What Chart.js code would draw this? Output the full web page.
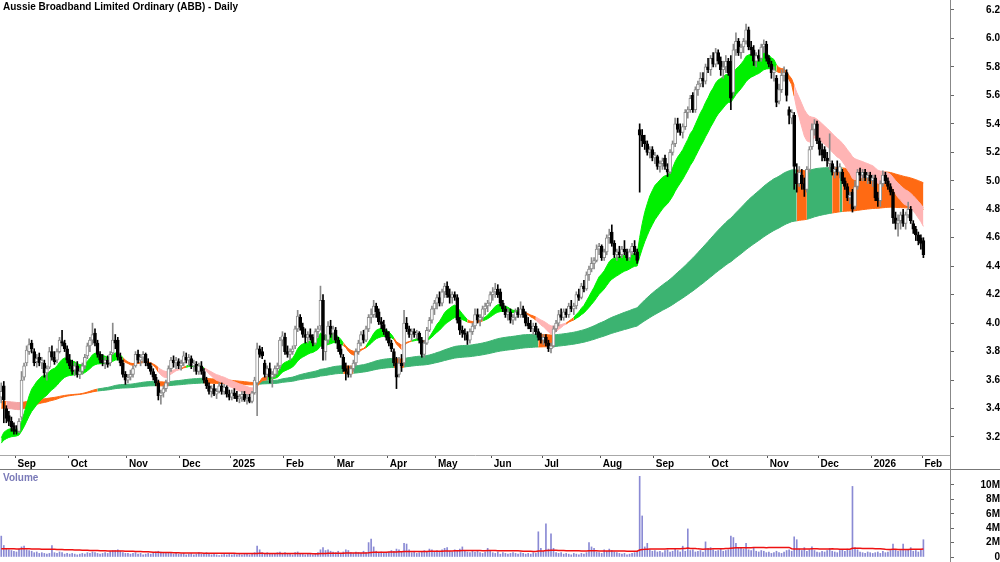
<!DOCTYPE html>
<html>
<head>
<meta charset="utf-8">
<script src="https://cdn.jsdelivr.net/npm/chart.js@4"></script>
<style>
  body { margin: 0; background: #fff; }
  #wrap { position: relative; width: 1000px; height: 562px; font-family: "Liberation Sans", Arial, sans-serif; overflow: hidden; }
  #price { position: absolute; left: 0; top: 0; }
  #vol { position: absolute; left: 0; top: 470px; }
  .title { position: absolute; left: 3px; top: 1px; font-size: 10px; font-weight: bold; color: #000; }
  .vlabel { position: absolute; left: 3px; top: 472px; font-size: 10px; font-weight: bold; color: #7a7ab8; }
  .sep { position: absolute; left: 0; top: 469px; width: 1000px; height: 1px; background: #777; }
  .axis { position: absolute; left: 950px; top: 0; width: 1px; height: 562px; background: #888; }
</style>
</head>
<body>
<div id="wrap">
  <canvas id="price" width="1000" height="470"></canvas>
  <canvas id="vol" width="1000" height="92"></canvas>
  <div class="sep"></div>
  <div class="axis"></div>
  <div class="title">Aussie Broadband Limited Ordinary (ABB) - Daily</div>
  <div class="vlabel">Volume</div>
</div>
<script>
// daily candles [open, high, low, close], one array per month
const aug24 = [[3.48,3.58,3.44,3.52],[3.56,3.59,3.30,3.46],[3.40,3.42,3.30,3.33],[3.35,3.38,3.28,3.31],[3.31,3.34,3.24,3.27],[3.28,3.30,3.22,3.24]];
const sep24 = [[3.25,3.28,3.22,3.24],[3.24,3.33,3.23,3.31],[3.34,3.66,3.32,3.60],[3.62,3.72,3.60,3.70],[3.72,3.84,3.70,3.81],[3.80,3.89,3.78,3.85],[3.86,3.88,3.79,3.82],[3.80,3.82,3.70,3.72],[3.73,3.78,3.69,3.75],[3.76,3.79,3.70,3.72],[3.72,3.76,3.68,3.74],[3.72,3.74,3.62,3.65],[3.65,3.70,3.60,3.68],[3.69,3.83,3.68,3.80],[3.80,3.84,3.74,3.76],[3.76,3.80,3.71,3.73],[3.74,3.82,3.72,3.80],[3.80,3.90,3.79,3.88],[3.87,3.95,3.84,3.86],[3.86,3.88,3.80,3.82],[3.82,3.84,3.72,3.74]];
const oct24 = [[3.74,3.78,3.68,3.70],[3.70,3.74,3.64,3.66],[3.67,3.72,3.63,3.70],[3.70,3.73,3.62,3.64],[3.64,3.68,3.61,3.66],[3.66,3.72,3.64,3.70],[3.70,3.78,3.68,3.76],[3.77,3.86,3.75,3.84],[3.84,3.90,3.80,3.88],[3.88,4.00,3.85,3.92],[3.93,3.96,3.84,3.86],[3.86,3.88,3.76,3.78],[3.78,3.80,3.72,3.74],[3.74,3.78,3.70,3.72],[3.72,3.76,3.68,3.74],[3.74,3.77,3.69,3.71],[3.72,3.80,3.70,3.78],[3.79,4.00,3.78,3.88],[3.88,3.92,3.82,3.86],[3.88,3.90,3.74,3.76],[3.76,3.79,3.70,3.72],[3.72,3.74,3.62,3.64],[3.64,3.66,3.57,3.60]];
const nov24 = [[3.60,3.64,3.58,3.62],[3.62,3.67,3.60,3.64],[3.64,3.70,3.62,3.68],[3.70,3.80,3.69,3.78],[3.78,3.81,3.72,3.74],[3.74,3.78,3.70,3.76],[3.76,3.80,3.72,3.78],[3.78,3.79,3.70,3.72],[3.72,3.75,3.68,3.70],[3.70,3.72,3.64,3.66],[3.66,3.68,3.60,3.62],[3.62,3.64,3.56,3.58],[3.58,3.60,3.46,3.49],[3.49,3.53,3.43,3.51],[3.51,3.56,3.48,3.54],[3.54,3.60,3.52,3.58],[3.58,3.70,3.56,3.68],[3.68,3.76,3.66,3.74],[3.74,3.77,3.69,3.72],[3.72,3.76,3.68,3.74],[3.73,3.75,3.68,3.70]];
const dec24 = [[3.70,3.74,3.67,3.72],[3.72,3.80,3.70,3.77],[3.76,3.79,3.72,3.74],[3.74,3.78,3.70,3.76],[3.75,3.77,3.68,3.70],[3.70,3.74,3.66,3.72],[3.71,3.73,3.64,3.66],[3.66,3.72,3.64,3.70],[3.70,3.73,3.64,3.66],[3.66,3.68,3.58,3.60],[3.60,3.62,3.54,3.56],[3.56,3.58,3.50,3.52],[3.52,3.56,3.48,3.54],[3.54,3.57,3.49,3.50],[3.50,3.54,3.47,3.52],[3.52,3.58,3.51,3.56],[3.56,3.58,3.50,3.52],[3.52,3.57,3.50,3.55],[3.55,3.56,3.48,3.50],[3.50,3.53,3.46,3.48]];
const jan25 = [[3.48,3.53,3.46,3.51],[3.51,3.54,3.47,3.49],[3.49,3.52,3.45,3.47],[3.47,3.50,3.44,3.48],[3.48,3.52,3.45,3.50],[3.50,3.52,3.45,3.46],[3.46,3.50,3.43,3.47],[3.48,3.50,3.44,3.45],[3.45,3.52,3.44,3.51],[3.51,3.62,3.50,3.60],[3.58,3.86,3.35,3.82],[3.82,3.84,3.76,3.78],[3.80,3.83,3.75,3.77],[3.72,3.74,3.62,3.64],[3.64,3.70,3.60,3.68],[3.68,3.72,3.58,3.62],[3.62,3.66,3.55,3.64],[3.64,3.70,3.62,3.68],[3.68,3.72,3.64,3.70],[3.70,3.90,3.68,3.88],[3.88,3.94,3.84,3.91]];
const feb25 = [[3.90,3.93,3.78,3.80],[3.80,3.84,3.76,3.78],[3.78,3.82,3.74,3.80],[3.80,3.84,3.78,3.82],[3.84,3.98,3.82,3.96],[3.96,4.09,3.94,4.05],[4.04,4.06,3.95,3.97],[3.97,4.00,3.90,3.92],[3.92,3.96,3.86,3.90],[3.90,3.94,3.86,3.92],[3.92,3.96,3.88,3.90],[3.90,3.92,3.84,3.86],[3.86,3.96,3.85,3.94],[3.94,3.98,3.90,3.96],[3.98,4.26,3.95,4.16],[4.16,4.20,3.74,3.82],[3.80,3.92,3.74,3.88],[3.88,4.01,3.86,3.98],[3.98,4.02,3.90,3.92],[3.93,3.98,3.88,3.96]];
const mar25 = [[3.95,3.97,3.86,3.88],[3.88,3.90,3.80,3.82],[3.82,3.85,3.76,3.78],[3.76,3.78,3.66,3.68],[3.68,3.72,3.60,3.66],[3.66,3.70,3.62,3.64],[3.64,3.70,3.62,3.68],[3.68,3.74,3.66,3.72],[3.72,3.82,3.70,3.80],[3.80,3.88,3.78,3.86],[3.86,3.94,3.84,3.92],[3.92,3.95,3.86,3.88],[3.88,3.98,3.87,3.96],[3.96,4.06,3.94,4.04],[4.04,4.10,4.00,4.06],[4.06,4.16,4.04,4.12],[4.12,4.14,4.04,4.08],[4.08,4.10,3.99,4.01],[4.01,4.04,3.96,3.99],[3.99,4.02,3.92,3.94],[3.94,3.96,3.88,3.90]];
const apr25 = [[3.90,3.94,3.84,3.86],[3.86,3.88,3.80,3.82],[3.80,3.82,3.70,3.72],[3.72,3.76,3.54,3.62],[3.64,3.76,3.62,3.72],[3.72,3.78,3.66,3.70],[3.72,4.09,3.70,4.00],[4.00,4.04,3.94,3.96],[3.96,3.98,3.90,3.92],[3.92,3.96,3.88,3.94],[3.94,3.96,3.90,3.92],[3.92,3.95,3.89,3.93],[3.93,3.94,3.86,3.88],[3.88,3.90,3.76,3.78],[3.78,3.88,3.76,3.86],[3.86,3.97,3.85,3.95],[3.95,4.04,3.94,4.02],[4.02,4.12,4.00,4.10],[4.10,4.16,4.06,4.14]];
const may25 = [[4.14,4.20,4.10,4.18],[4.18,4.22,4.12,4.14],[4.14,4.24,4.12,4.22],[4.22,4.28,4.18,4.26],[4.26,4.29,4.18,4.20],[4.20,4.24,4.14,4.18],[4.18,4.22,4.14,4.20],[4.20,4.22,4.16,4.18],[4.18,4.20,4.00,4.02],[4.02,4.04,3.92,3.95],[3.95,3.98,3.90,3.93],[3.93,3.96,3.88,3.92],[3.92,3.94,3.85,3.88],[3.88,3.96,3.86,3.94],[3.94,4.00,3.92,3.98],[3.98,4.10,3.96,4.06],[4.06,4.10,4.00,4.02],[4.02,4.06,3.98,4.04],[4.04,4.12,4.02,4.10],[4.10,4.14,4.06,4.12],[4.12,4.16,4.08,4.14],[4.14,4.22,4.12,4.20]];
const jun25 = [[4.20,4.25,4.16,4.22],[4.22,4.28,4.18,4.24],[4.24,4.27,4.18,4.20],[4.22,4.24,4.12,4.14],[4.14,4.16,4.08,4.10],[4.10,4.12,4.04,4.06],[4.06,4.10,4.02,4.08],[4.08,4.10,4.00,4.02],[4.02,4.06,3.99,4.04],[4.04,4.10,4.02,4.08],[4.08,4.11,4.04,4.06],[4.06,4.15,4.04,4.10],[4.10,4.12,4.04,4.06],[4.06,4.08,3.98,4.00],[4.00,4.04,3.96,3.98],[3.98,4.02,3.94,3.96],[3.96,4.00,3.92,3.98],[3.98,4.00,3.92,3.94],[3.94,3.96,3.88,3.90],[3.90,3.93,3.86,3.88]];
const jul25 = [[3.88,3.92,3.85,3.90],[3.90,3.92,3.84,3.86],[3.86,3.88,3.80,3.82],[3.82,3.86,3.79,3.84],[3.84,3.98,3.83,3.96],[3.96,4.02,3.94,4.00],[4.00,4.09,3.98,4.06],[4.06,4.10,4.02,4.04],[4.04,4.10,4.02,4.08],[4.08,4.10,4.04,4.06],[4.06,4.14,4.04,4.12],[4.12,4.16,4.08,4.10],[4.10,4.14,4.06,4.12],[4.12,4.22,4.10,4.20],[4.20,4.24,4.16,4.18],[4.18,4.28,4.17,4.26],[4.26,4.30,4.22,4.24],[4.24,4.36,4.23,4.34],[4.34,4.40,4.30,4.38],[4.38,4.46,4.36,4.42],[4.42,4.46,4.38,4.44],[4.44,4.55,4.43,4.52],[4.52,4.56,4.48,4.54]];
const aug25 = [[4.54,4.55,4.44,4.46],[4.46,4.52,4.44,4.50],[4.50,4.62,4.48,4.60],[4.60,4.66,4.56,4.62],[4.64,4.69,4.54,4.56],[4.56,4.58,4.46,4.48],[4.48,4.52,4.44,4.50],[4.50,4.54,4.46,4.48],[4.48,4.54,4.46,4.52],[4.52,4.58,4.48,4.50],[4.50,4.52,4.44,4.46],[4.46,4.52,4.44,4.50],[4.50,4.56,4.48,4.54],[4.54,4.58,4.48,4.50],[4.50,4.52,4.42,4.44],[5.36,5.40,4.92,5.32],[5.32,5.36,5.24,5.28],[5.28,5.32,5.22,5.26],[5.26,5.28,5.18,5.20],[5.20,5.24,5.16,5.22],[5.22,5.24,5.14,5.16]];
const sep25 = [[5.16,5.20,5.12,5.18],[5.17,5.18,5.08,5.10],[5.10,5.14,5.06,5.12],[5.12,5.16,5.08,5.14],[5.16,5.18,5.08,5.10],[5.08,5.12,5.03,5.06],[5.06,5.22,5.05,5.20],[5.20,5.28,5.18,5.26],[5.26,5.44,5.24,5.40],[5.40,5.44,5.34,5.36],[5.36,5.40,5.32,5.34],[5.34,5.40,5.30,5.38],[5.38,5.50,5.36,5.48],[5.48,5.52,5.44,5.50],[5.50,5.60,5.48,5.58],[5.60,5.62,5.48,5.50],[5.50,5.66,5.48,5.64],[5.64,5.70,5.60,5.68],[5.68,5.76,5.66,5.72],[5.72,5.76,5.66,5.70],[5.70,5.82,5.68,5.80],[5.80,5.86,5.76,5.78]];
const oct25 = [[5.78,5.88,5.74,5.86],[5.86,5.90,5.80,5.82],[5.82,5.93,5.80,5.90],[5.90,5.92,5.82,5.84],[5.84,5.87,5.74,5.78],[5.78,5.84,5.72,5.80],[5.80,5.88,5.76,5.84],[5.84,5.86,5.74,5.76],[5.84,5.88,5.50,5.58],[5.62,5.96,5.60,5.92],[5.92,6.04,5.88,5.98],[5.98,6.00,5.88,5.90],[5.90,5.96,5.86,5.94],[5.94,6.00,5.90,5.98],[5.98,6.10,5.96,6.06],[6.06,6.08,5.92,5.94],[5.94,5.98,5.88,5.92],[5.92,5.95,5.81,5.84],[5.84,5.90,5.80,5.88],[5.88,5.92,5.84,5.86],[5.86,5.96,5.84,5.94],[5.94,5.99,5.90,5.96],[5.96,5.98,5.84,5.86]];
const nov25 = [[5.86,5.88,5.80,5.82],[5.82,5.84,5.72,5.76],[5.76,5.80,5.70,5.78],[5.72,5.74,5.52,5.55],[5.56,5.68,5.54,5.64],[5.64,5.78,5.62,5.74],[5.74,5.80,5.70,5.76],[5.76,5.78,5.56,5.60],[5.50,5.52,5.40,5.46],[5.44,5.50,5.40,5.48],[5.46,5.48,4.94,5.10],[5.05,5.12,4.92,4.98],[4.98,5.10,4.96,5.06],[5.04,5.08,4.94,4.98],[4.98,5.02,4.89,4.94],[4.94,5.10,4.92,5.08],[5.08,5.24,5.06,5.22],[5.24,5.40,5.22,5.36],[5.36,5.43,5.32,5.40],[5.40,5.42,5.26,5.28]];
const dec25 = [[5.28,5.30,5.18,5.22],[5.22,5.26,5.14,5.18],[5.22,5.24,5.14,5.16],[5.16,5.20,5.10,5.14],[5.12,5.33,5.08,5.14],[5.12,5.14,5.04,5.06],[5.06,5.10,5.02,5.08],[5.08,5.14,5.04,5.06],[5.06,5.12,5.02,5.10],[5.06,5.08,4.98,5.00],[5.00,5.02,4.94,4.96],[4.96,4.98,4.86,4.88],[4.88,4.92,4.84,4.90],[4.92,4.94,4.78,4.80],[4.82,5.00,4.80,4.96],[4.96,5.08,4.94,5.06],[5.06,5.09,5.00,5.04],[5.04,5.08,5.00,5.06],[5.06,5.08,5.00,5.02],[5.02,5.06,4.98,5.04],[5.04,5.06,4.98,5.00]];
const jan26 = [[5.00,5.04,4.96,5.02],[5.02,5.04,4.86,4.88],[4.88,4.92,4.82,4.86],[4.86,5.00,4.82,4.98],[4.98,5.07,4.96,5.04],[5.04,5.06,4.98,5.00],[5.00,5.02,4.94,4.96],[4.96,4.98,4.90,4.92],[4.92,4.94,4.70,4.74],[4.74,4.78,4.66,4.70],[4.70,4.76,4.61,4.72],[4.72,4.78,4.66,4.76],[4.76,4.80,4.68,4.70],[4.70,4.78,4.66,4.76],[4.76,4.85,4.74,4.80],[4.80,4.82,4.70,4.72],[4.70,4.72,4.63,4.66],[4.66,4.68,4.58,4.62],[4.62,4.64,4.55,4.58],[4.60,4.62,4.52,4.56]];
const feb26 = [[4.58,4.60,4.46,4.48]];

const months = [aug24, sep24, oct24, nov24, dec24, jan25, feb25, mar25, apr25, may25, jun25, jul25, aug25, sep25, oct25, nov25, dec25, jan26, feb26];
const monthNames = ['Aug', 'Sep', 'Oct', 'Nov', 'Dec', '2025', 'Feb', 'Mar', 'Apr', 'May', 'Jun', 'Jul', 'Aug', 'Sep', 'Oct', 'Nov', 'Dec', '2026', 'Feb'];
const emptyDaysAfter = 10;

// daily volume, millions of shares
const volumes = [
  2.9,1.6,1.2,1.0,0.9,0.8,
  0.7,1.1,1.4,1.5,1.0,0.9,0.8,0.6,0.7,0.5,0.6,0.5,0.4,0.5,1.6,0.6,0.5,0.7,0.6,0.4,0.5,
  0.4,0.5,0.4,0.3,0.4,0.5,0.4,0.6,0.5,0.7,0.6,0.5,0.4,0.5,0.6,0.5,0.8,0.9,0.9,1.0,0.8,0.6,0.5,
  0.5,0.4,0.5,0.6,0.4,0.5,0.3,0.4,0.5,0.4,0.6,0.7,0.8,0.7,0.6,0.5,0.6,0.5,0.4,0.5,0.4,
  0.4,0.5,0.3,0.4,0.5,0.3,0.4,0.6,0.4,0.5,0.6,0.4,0.3,0.4,0.3,0.2,0.3,0.4,0.3,0.4,
  0.3,0.4,0.3,0.4,0.3,0.5,0.4,0.3,0.4,0.6,1.5,1.0,0.6,0.5,0.6,0.4,0.5,0.4,0.6,0.7,0.5,
  0.6,0.4,0.5,0.3,0.6,0.7,0.5,0.4,0.3,0.4,0.5,0.3,0.4,0.6,1.0,1.3,0.9,1.0,0.8,0.7,
  0.6,0.8,0.5,0.7,1.0,0.9,0.6,0.5,0.7,0.6,0.5,0.8,0.6,2.0,2.5,1.4,0.8,0.6,0.7,0.5,0.6,
  0.7,0.9,0.8,1.1,1.0,0.7,1.9,1.8,1.0,0.6,0.8,0.5,0.6,0.7,0.9,0.8,1.1,1.0,0.7,
  0.9,0.8,1.0,1.2,1.3,0.8,0.7,1.0,0.8,1.1,1.4,0.9,0.7,0.6,0.8,0.7,0.9,0.6,0.5,0.7,1.2,0.8,
  0.6,0.5,0.7,0.4,0.6,0.5,0.4,0.5,0.6,0.5,0.4,0.6,0.5,0.4,0.5,0.4,0.6,0.5,3.5,1.2,
  0.8,4.6,1.1,3.2,1.2,0.6,0.5,0.6,0.4,0.5,0.4,0.3,0.5,0.4,0.3,0.5,0.4,0.6,2.0,1.4,1.2,0.7,0.6,
  0.5,1.0,0.8,1.1,0.9,0.7,0.6,0.5,0.4,0.5,0.3,0.4,0.5,0.6,0.8,11.2,5.7,1.4,1.9,1.0,0.8,
  0.9,0.7,0.8,0.6,0.9,1.0,0.7,0.8,1.1,0.9,0.7,1.5,0.8,3.9,0.9,1.0,0.7,0.8,0.9,0.7,2.1,1.2,
  1.3,1.0,0.8,0.9,1.1,0.8,0.9,1.0,2.9,2.7,1.9,1.3,1.2,1.1,1.9,1.0,0.9,1.3,0.8,0.7,0.9,0.8,0.6,
  0.7,0.5,0.6,0.8,0.6,0.5,0.7,0.9,1.0,0.8,2.8,2.4,1.1,0.9,1.3,0.8,1.0,1.4,0.9,0.7,
  0.6,0.8,0.7,0.9,1.2,0.8,0.7,0.6,0.9,1.0,0.8,1.1,0.9,9.8,1.3,1.0,0.7,0.6,0.5,0.7,0.6,
  0.5,0.6,0.7,0.5,0.8,0.6,0.7,0.9,1.8,1.0,0.8,0.9,1.8,0.9,1.0,1.3,0.8,0.9,0.7,1.0,
  2.4
];

const shortPeriods = [13, 16, 19, 22, 25, 28];
const longPeriods = [125, 140, 155, 170, 190, 210];
const shortStart = [3.14, 3.14, 3.13, 3.13, 3.13, 3.13];
const longStart = [3.40, 3.41, 3.42, 3.43, 3.44, 3.45];
const volAvgPeriod = 60;
const volAvgStart = 1.1;

const candles = months.flat();
const closes = candles.map(c => c[3]);

const labels = [];
const tickText = {};
months.forEach((m, mi) => {
  if (mi > 0) tickText[labels.length] = monthNames[mi];
  m.forEach((_, d) => labels.push(monthNames[mi] + ' ' + (d + 1)));
});
for (let i = 0; i < emptyDaysAfter; i++) labels.push('next ' + (i + 1));

function emaLines(periods, starts) {
  return periods.map((p, k) => {
    const a = 2 / (p + 1);
    let e = starts[k];
    return closes.map(c => (e = e + a * (c - e)));
  });
}

// green = fast above slow in order, pink = reverse order, orange = mixed
function bandColours(lines, bull, bear, mixed, usePrice) {
  return closes.map((c, i) => {
    const v = lines.map(l => l[i]);
    const up = v.every((x, k) => k === 0 || v[k - 1] > x);
    const down = v.every((x, k) => k === 0 || v[k - 1] < x);
    if (up && (!usePrice || c >= Math.max(...v))) return bull;
    if (down && (!usePrice || c <= Math.min(...v))) return bear;
    return mixed;
  });
}

function ribbon(name, lines, colours, order) {
  const top = closes.map((_, i) => Math.max(...lines.map(l => l[i])));
  const bottom = closes.map((_, i) => Math.min(...lines.map(l => l[i])));
  const seg = {
    backgroundColor: c => colours[c.p0DataIndex],
    borderColor: c => colours[c.p0DataIndex]
  };
  const common = { type: 'line', pointRadius: 0, borderWidth: 1, tension: 0, segment: seg, order: order };
  return [
    Object.assign({ label: name + ' top', data: top, fill: '+1', backgroundColor: colours[0], borderColor: colours[0] }, common),
    Object.assign({ label: name + ' bottom', data: bottom, fill: false, borderColor: colours[0] }, common)
  ];
}

const shortLines = emaLines(shortPeriods, shortStart);
const longLines = emaLines(longPeriods, longStart);
const shortColours = bandColours(shortLines, '#00f000', '#ffb4b4', '#ff6a13', false);
const longColours = bandColours(longLines, '#3cb371', '#f4a3a3', '#ff6a13', true);

const isUp = candles.map(c => c[3] >= c[0]);
const volAvg = volumes.map((_, i) => {
  let sum = 0;
  for (let k = i - volAvgPeriod + 1; k <= i; k++) sum += k < 0 ? volAvgStart : volumes[k];
  return sum / volAvgPeriod;
});

Chart.defaults.font.family = '"Liberation Sans", Arial, sans-serif';
const axisFont = { size: 10, weight: 'bold' };
const rightAxisFit = s => { s.width = 50; s.paddingTop = 0; s.paddingBottom = 0; };

new Chart(document.getElementById('price'), {
  type: 'bar',
  data: {
    labels: labels,
    datasets: [
      {
        label: 'Bodies',
        data: candles.map(c => [Math.min(c[0], c[3]), Math.max(c[0], c[3])]),
        backgroundColor: isUp.map(u => u ? '#ffffff' : '#000000'),
        borderColor: isUp.map(u => u ? '#8a8a8a' : '#000000'),
        borderWidth: 1,
        borderSkipped: false,
        barThickness: 3,
        minBarLength: 1,
        grouped: false,
        order: 0
      },
      {
        label: 'Range',
        data: candles.map(c => [c[2], c[1]]),
        backgroundColor: isUp.map(u => u ? '#8a8a8a' : '#000000'),
        barThickness: 1,
        grouped: false,
        order: 1
      },
      ...ribbon('Short MAs', shortLines, shortColours, 2),
      ...ribbon('Long MAs', longLines, longColours, 3)
    ]
  },
  options: {
    responsive: false,
    animation: false,
    devicePixelRatio: 1,
    layout: { padding: 0 },
    plugins: { legend: { display: false }, tooltip: { enabled: false } },
    scales: {
      x: {
        offset: true,
        afterFit: s => { s.height = 15; },
        border: { display: true, color: '#a8a8a8' },
        grid: {
          offset: true,
          drawOnChartArea: false,
          tickLength: 3,
          color: c => (tickText[c.index] ? '#555' : 'rgba(0,0,0,0)')
        },
        ticks: {
          autoSkip: false,
          minRotation: 0,
          maxRotation: 0,
          padding: 0,
          align: 'start',
          labelOffset: 1,
          color: '#000',
          font: axisFont,
          callback: (v, i) => tickText[i] || ''
        }
      },
      y: {
        position: 'right',
        min: 3.0735,
        max: 6.27,
        afterFit: rightAxisFit,
        border: { display: false },
        grid: { drawOnChartArea: false, tickLength: 4, color: '#666' },
        ticks: {
          stepSize: 0.2,
          includeBounds: false,
          crossAlign: 'far',
          padding: 30,
          color: '#000',
          font: axisFont,
          callback: v => v.toFixed(1)
        }
      }
    }
  }
});

new Chart(document.getElementById('vol'), {
  type: 'bar',
  data: {
    labels: labels,
    datasets: [
      {
        type: 'line',
        label: 'Volume average',
        data: volAvg,
        borderColor: '#ee1111',
        borderWidth: 1.5,
        pointRadius: 0,
        tension: 0,
        order: 0
      },
      {
        label: 'Volume',
        data: volumes,
        backgroundColor: '#8a8ad4',
        barThickness: 1,
        grouped: false,
        order: 1
      }
    ]
  },
  options: {
    responsive: false,
    animation: false,
    devicePixelRatio: 1,
    layout: { padding: { top: 1, bottom: 5 } },
    plugins: { legend: { display: false }, tooltip: { enabled: false } },
    scales: {
      x: { display: false, offset: true },
      y: {
        position: 'right',
        min: 0,
        max: 11.94,
        afterFit: rightAxisFit,
        border: { display: false },
        grid: { drawOnChartArea: false, tickLength: 4, color: '#666' },
        ticks: {
          stepSize: 2,
          includeBounds: false,
          crossAlign: 'far',
          padding: 24,
          color: '#000',
          font: axisFont,
          callback: v => (v === 0 ? '0' : v + 'M')
        }
      }
    }
  }
});
</script>
</body>
</html>
